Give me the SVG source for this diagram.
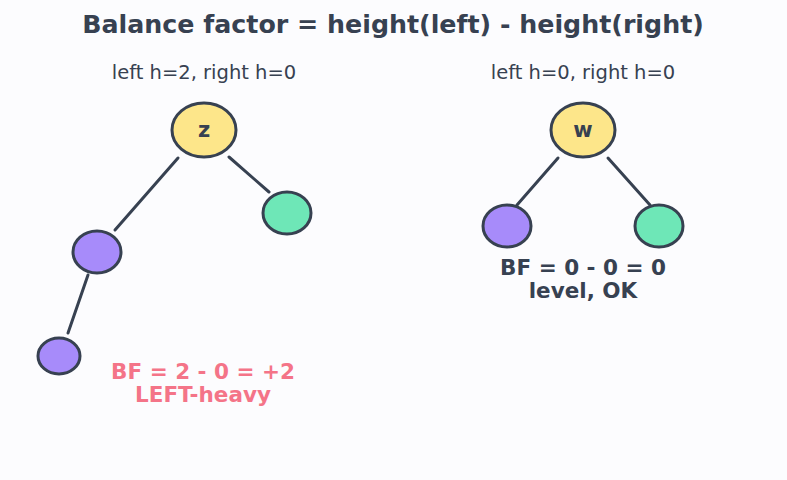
<svg xmlns="http://www.w3.org/2000/svg" width="787" height="480" viewBox="0 0 787 480">
<style>
text{font-family:"DejaVu Sans",sans-serif;text-anchor:middle;fill:#374151}
.title{font-size:25.3px;font-weight:bold}
.sub{font-size:19.5px}
.lbl{font-size:21px;font-weight:bold}
.bf{font-size:21.5px;font-weight:bold}
.warn{fill:#f47488}
.node{stroke:#374151;stroke-width:3}
.yel{fill:#fde68a}.pur{fill:#a78bfa}.grn{fill:#6ee7b7}
.edge{stroke:#374151;stroke-width:3;stroke-linecap:round;fill:none}
</style>
<rect width="787" height="480" fill="#fcfcfe"/>
<text class="title" x="393" y="33">Balance factor = height(left) - height(right)</text>
<text class="sub" x="204" y="79">left h=2, right h=0</text>
<text class="sub" x="583" y="79">left h=0, right h=0</text>
<g id="connectors">
<line class="edge" x1="178" y1="158" x2="115" y2="230"/>
<line class="edge" x1="229" y1="157" x2="269" y2="192"/>
<line class="edge" x1="88" y1="275" x2="68" y2="333"/>
<line class="edge" x1="558" y1="158" x2="517" y2="205"/>
<line class="edge" x1="608" y1="158" x2="650" y2="205"/>
</g>
<g id="node-z"><ellipse class="node yel" cx="204" cy="130" rx="32" ry="27"/><text class="lbl" x="204" y="137">z</text></g>
<g id="node-z-right"><ellipse class="node grn" cx="287" cy="213" rx="24" ry="21"/></g>
<g id="node-z-left"><ellipse class="node pur" cx="97" cy="252" rx="24" ry="21"/></g>
<g id="node-z-left-left"><ellipse class="node pur" cx="59" cy="356" rx="21" ry="18"/></g>
<g id="node-w"><ellipse class="node yel" cx="583" cy="130" rx="32" ry="27"/><text class="lbl" x="583" y="137">w</text></g>
<g id="node-w-left"><ellipse class="node pur" cx="507" cy="226" rx="24" ry="21"/></g>
<g id="node-w-right"><ellipse class="node grn" cx="659" cy="226" rx="24" ry="21"/></g>
<text class="bf warn" x="203" y="379">BF = 2 - 0 = +2</text>
<text class="bf warn" x="203" y="402">LEFT-heavy</text>
<text class="bf" x="583" y="275">BF = 0 - 0 = 0</text>
<text class="bf" x="583" y="298">level, OK</text>
</svg>
